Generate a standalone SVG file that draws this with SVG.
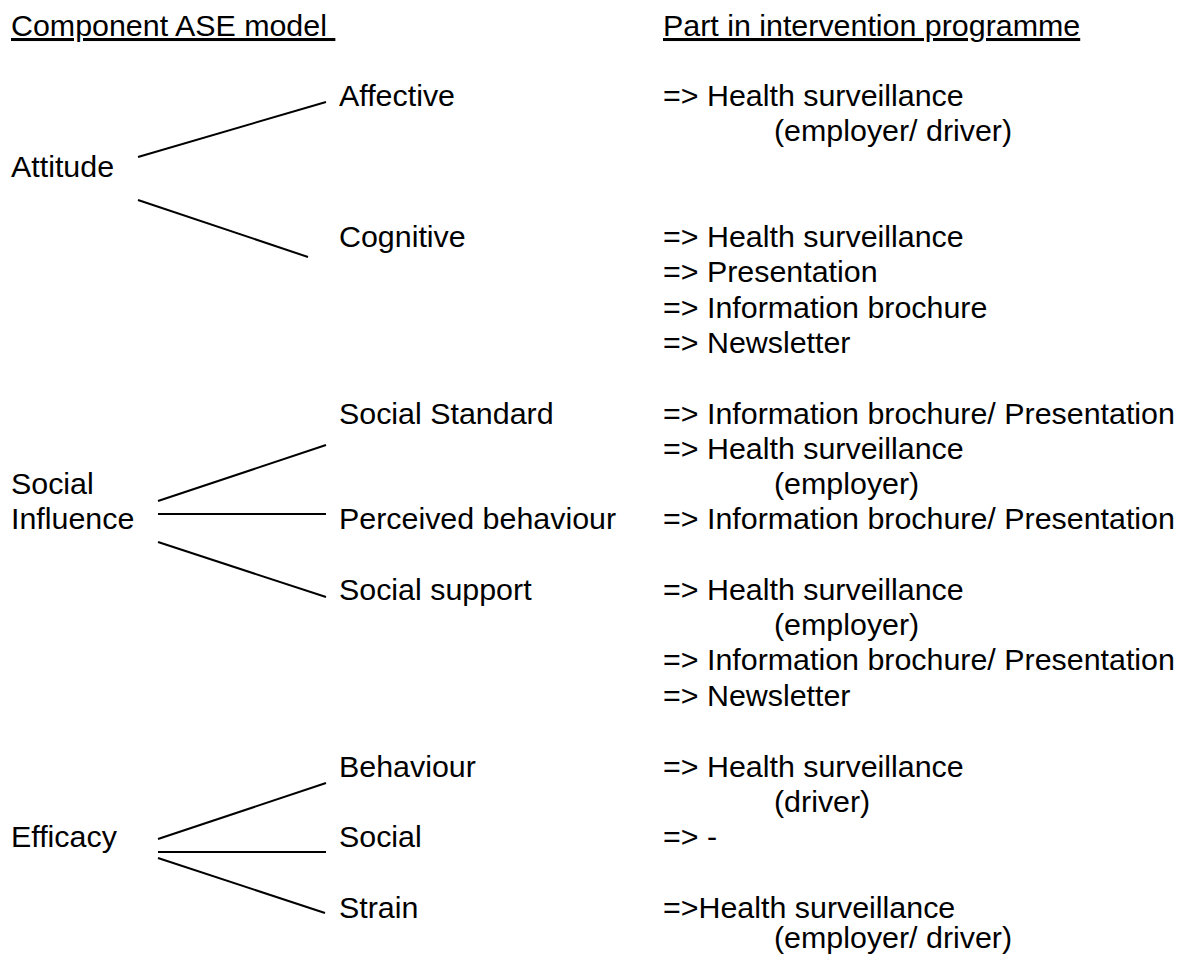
<svg xmlns="http://www.w3.org/2000/svg" width="1183" height="956" viewBox="0 0 1183 956">
<style>
text{font-family:"Liberation Sans",Arial,sans-serif;font-size:30.4px;fill:#000}
.u{text-decoration:underline}
.c line{stroke:#000;stroke-width:2}
</style>
<rect width="1183" height="956" fill="#fff"/>
<g id="headers">
<text class="u" x="11" y="36" xml:space="preserve">Component ASE model </text>
<text class="u" x="663" y="36">Part in intervention programme</text>
</g>
<g id="attitude"><text x="11" y="177">Attitude</text></g>
<g id="affective"><text x="339" y="106">Affective</text>
<text x="663" y="106">=&gt; Health surveillance</text>
<text x="774" y="141">(employer/ driver)</text></g>
<g id="cognitive"><text x="339" y="247">Cognitive</text>
<text x="663" y="247">=&gt; Health surveillance</text>
<text x="663" y="282">=&gt; Presentation</text>
<text x="663" y="318">=&gt; Information brochure</text>
<text x="663" y="353">=&gt; Newsletter</text></g>
<g id="social-influence"><text x="11" y="494">Social</text><text x="11" y="529">Influence</text></g>
<g id="social-standard"><text x="339" y="424">Social Standard</text>
<text x="663" y="424">=&gt; Information brochure/ Presentation</text>
<text x="663" y="459">=&gt; Health surveillance</text>
<text x="774" y="494">(employer)</text></g>
<g id="perceived-behaviour"><text x="339" y="529">Perceived behaviour</text>
<text x="663" y="529">=&gt; Information brochure/ Presentation</text></g>
<g id="social-support"><text x="339" y="600">Social support</text>
<text x="663" y="600">=&gt; Health surveillance</text>
<text x="774" y="635">(employer)</text>
<text x="663" y="670">=&gt; Information brochure/ Presentation</text>
<text x="663" y="706">=&gt; Newsletter</text></g>
<g id="efficacy"><text x="11" y="847">Efficacy</text></g>
<g id="behaviour"><text x="339" y="777">Behaviour</text>
<text x="663" y="777">=&gt; Health surveillance</text>
<text x="774" y="812">(driver)</text></g>
<g id="social"><text x="339" y="847">Social</text>
<text x="663" y="847">=&gt; -</text></g>
<g id="strain"><text x="339" y="918">Strain</text>
<text x="663" y="918">=&gt;Health surveillance</text>
<text x="774" y="948">(employer/ driver)</text></g>
<g id="connectors" class="c">
<line x1="138" y1="157" x2="326" y2="102"/>
<line x1="138" y1="200" x2="308" y2="257"/>
<line x1="158" y1="501" x2="326" y2="445"/>
<line x1="158" y1="514" x2="326" y2="514"/>
<line x1="158" y1="542" x2="326" y2="597"/>
<line x1="158" y1="839" x2="326" y2="783"/>
<line x1="158" y1="852" x2="326" y2="852"/>
<line x1="158" y1="858" x2="325" y2="913"/>
</g>
</svg>
